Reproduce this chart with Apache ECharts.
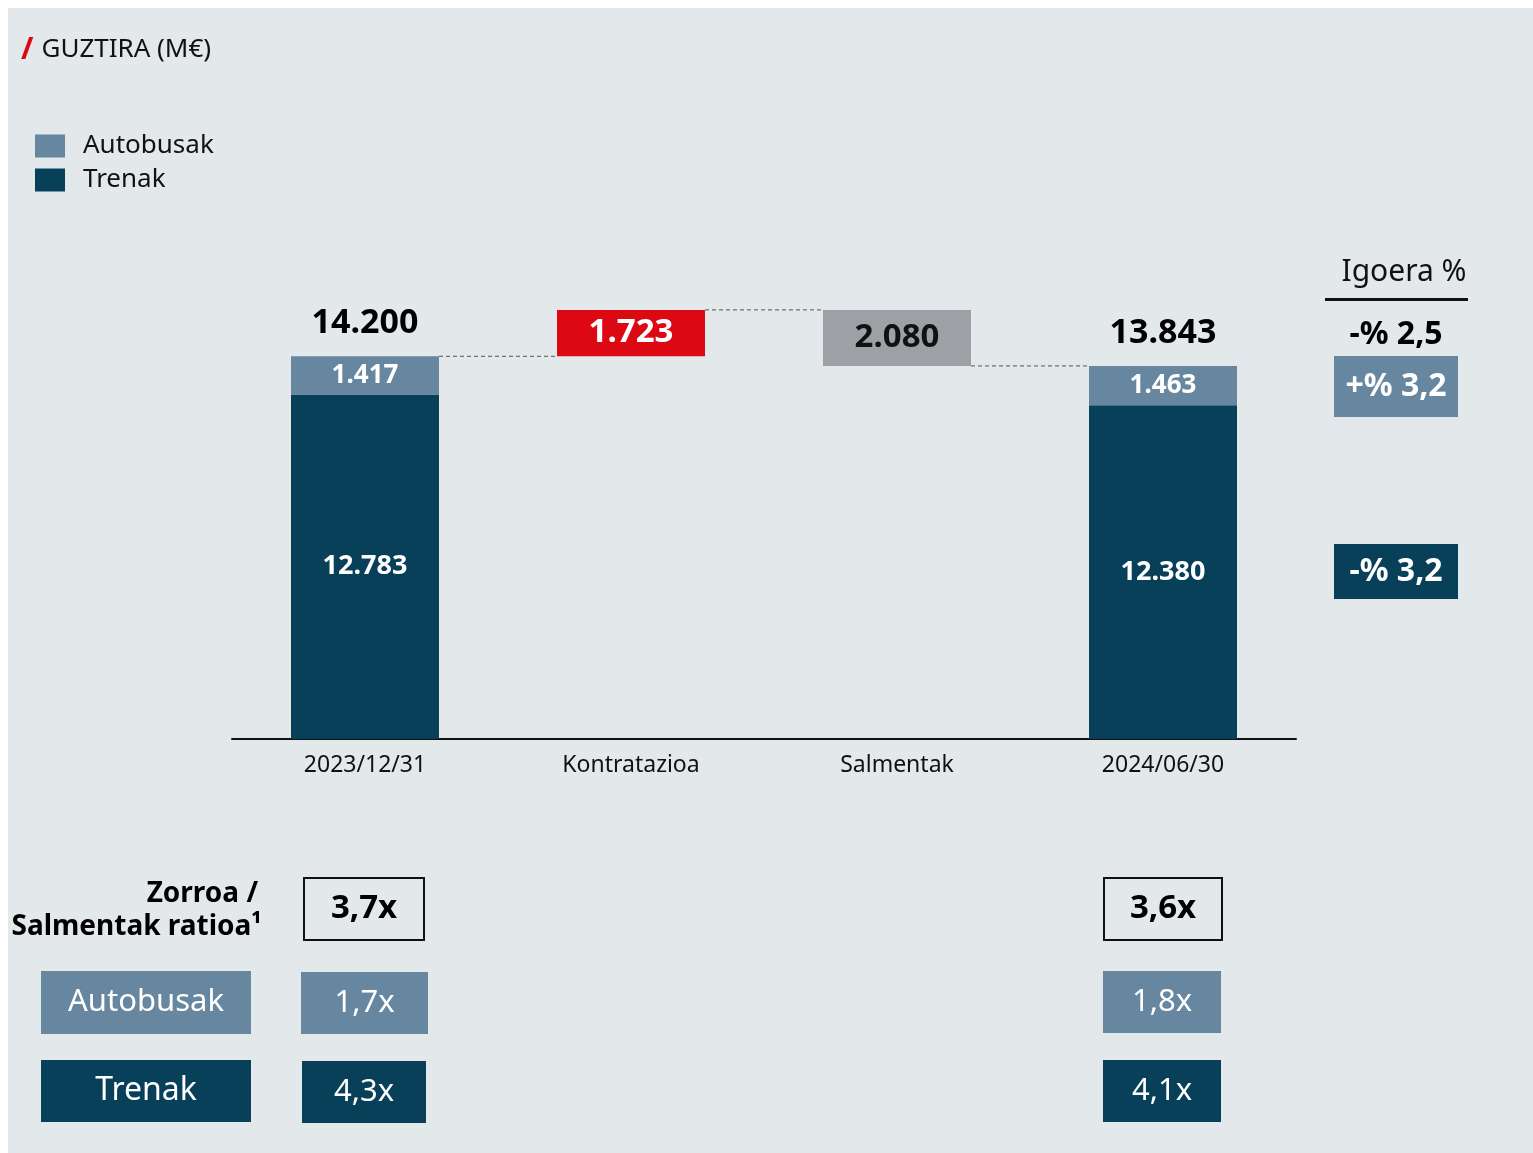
<!DOCTYPE html>
<html>
<head>
<meta charset="utf-8">
<script src="https://cdn.jsdelivr.net/npm/echarts@6/dist/echarts.min.js"></script>
<style>
  html, body { margin: 0; padding: 0; background: #fff; }
  #main { width: 1533px; height: 1153px; }
</style>
</head>
<body>
<div id="main"></div>
<script>
// datuak
var categories = ['2023/12/31', 'Kontratazioa', 'Salmentak', '2024/06/30'];
var trenak = [12783, '-', '-', 12380];
var autobusak = [1417, '-', '-', 1463];
var kontratazioa = 1723;
var salmentak = 2080;
var igoeraTotal = '-% 2,5';
var igoeraBus = '+% 3,2';
var igoeraTren = '-% 3,2';
var ratioTotal = ['3,7x', '3,6x'];
var ratioBus = ['1,7x', '1,8x'];
var ratioTren = ['4,3x', '4,1x'];

var C_BUS = '#66879f';
var C_TREN = '#08405a';
var C_RED = '#dc0814';
var C_GRAY = '#9da0a4';
var FONT = '"Noto Sans", sans-serif';

var total0 = trenak[0] + autobusak[0];
var total3 = trenak[3] + autobusak[3];
var peak = total0 + kontratazioa;
var totals = [total0, '-', '-', total3];
var base = ['-', total0, peak - salmentak, '-'];
var changes = ['-',
  { value: kontratazioa, itemStyle: { color: C_RED }, label: { color: '#fff' } },
  { value: salmentak, itemStyle: { color: C_GRAY }, label: { color: '#111' } },
  '-'];
var connectors = [[0, total0], [1, peak], [2, total3]];

function fmt(v) {
  return String(v).replace(/\B(?=(\d{3})+(?!\d))/g, '.');
}

//kutxak
function box(x, y, w, h, fill, text, color, size, weight, stroke) {
  return {
    type: 'rect',
    shape: { x: x, y: y, width: w, height: h },
    style: { fill: fill, stroke: stroke || null, lineWidth: stroke ? 2 : 0 },
    textContent: {
      style: { text: text, fill: color, font: weight + ' ' + size + 'px ' + FONT }
    },
    textConfig: { position: 'inside' }
  };
}

var myChart = echarts.init(document.getElementById('main'));
var option = {
  backgroundColor: '#fff',
  animation: false,
  title: {
    left: 12, top: 30,
    text: '{s|/}{t|GUZTIRA (M€)}',
    textStyle: {
      fontWeight: 'normal',
      rich: {
        s: { color: C_RED, fontSize: 30, fontFamily: FONT, fontWeight: 'bold', padding: [0, 8, 0, 4] },
        t: { color: '#111', fontSize: 26, fontFamily: FONT, fontWeight: 'normal' }
      }
    }
  },
  legend: {
    orient: 'vertical', left: 35, top: 133, padding: 0,
    itemWidth: 30, itemHeight: 23, itemGap: 8,
    icon: 'rect',
    data: ['Autobusak', 'Trenak'],
    textStyle: { fontSize: 26, lineHeight: 23, color: '#111', fontFamily: FONT, padding: [0, 0, 0, 13] }
  },
  grid: { left: 232, width: 1064, top: 200, bottom: 414 },
  xAxis: {
    type: 'category', data: categories,
    axisLine: { lineStyle: { color: '#111', width: 2 } },
    axisTick: { show: false },
    axisLabel: { fontSize: 23, color: '#111', margin: 15, fontFamily: FONT }
  },
  yAxis: { type: 'value', min: 0, max: 20000, show: false, splitLine: { show: false } },
  series: [
    { name: 'base', type: 'bar', stack: 'w', barWidth: 148, data: base,
      itemStyle: { color: 'transparent' }, silent: true },
    { name: 'Trenak', type: 'bar', stack: 'w', barWidth: 148, data: trenak,
      itemStyle: { color: C_TREN },
      label: { show: true, position: 'inside', color: '#fff', fontSize: 27, fontWeight: 'bold',
        fontFamily: FONT, formatter: function (p) { return fmt(p.value); } } },
    { name: 'Autobusak', type: 'bar', stack: 'w', barWidth: 148, data: autobusak,
      itemStyle: { color: C_BUS },
      label: { show: true, position: 'inside', color: '#fff', fontSize: 26, fontWeight: 'bold',
        fontFamily: FONT, formatter: function (p) { return fmt(p.value); } } },
    { name: 'change', type: 'bar', stack: 'w', barWidth: 148, data: changes,
      label: { show: true, position: 'inside', fontSize: 33, fontWeight: 'bold',
        fontFamily: FONT, formatter: function (p) { return fmt(p.value); } } },
    { name: 'total', type: 'scatter', data: totals, symbolSize: 1,
      itemStyle: { color: 'transparent', opacity: 1 },
      label: { show: true, position: 'top', distance: 15, color: '#000', fontSize: 34,
        fontWeight: 'bold', fontFamily: FONT, formatter: function (p) { return fmt(p.value); } } },
    { name: 'lines', type: 'custom', data: connectors, silent: true,
      renderItem: function (params, api) {
        var p = api.coord([api.value(0), api.value(1)]);
        var band = api.size([1, 0])[0];
        return {
          type: 'line',
          shape: { x1: p[0] + 74, y1: p[1], x2: p[0] + band - 74, y2: p[1] },
          style: { stroke: '#555', lineWidth: 1, lineDash: [4, 3] }
        };
      } }
  ],
  graphic: [
    { type: 'rect', z: -10, shape: { x: 8, y: 8, width: 1525, height: 1145 }, style: { fill: '#e3e8ea' } },
    // igoera
    { type: 'text', x: 1404, y: 272, style: { text: 'Igoera %', fill: '#111', font: '30px ' + FONT,
      align: 'center', verticalAlign: 'middle' } },
    { type: 'rect', shape: { x: 1325, y: 298, width: 143, height: 3 }, style: { fill: '#111' } },
    { type: 'text', x: 1396, y: 335, style: { text: igoeraTotal, fill: '#000', font: 'bold 32px ' + FONT,
      align: 'center', verticalAlign: 'middle' } },
    box(1334, 356, 124, 61, C_BUS, igoeraBus, '#fff', 32, 'bold'),
    box(1334, 544, 124, 55, C_TREN, igoeraTren, '#fff', 32, 'bold'),
    // ratioak
    { type: 'text', x: 258, y: 894, style: { text: 'Zorroa /', fill: '#000', font: 'bold 28px ' + FONT,
      align: 'right', verticalAlign: 'middle' } },
    { type: 'text', x: 262, y: 927, style: { text: 'Salmentak ratioa¹', fill: '#000', font: 'bold 28px ' + FONT,
      align: 'right', verticalAlign: 'middle' } },
    box(304, 878, 120, 62, 'transparent', ratioTotal[0], '#000', 33, 'bold', '#111'),
    box(1104, 878, 118, 62, 'transparent', ratioTotal[1], '#000', 33, 'bold', '#111'),
    box(41, 971, 210, 63, C_BUS, 'Autobusak', '#fff', 31, 'normal'),
    box(41, 1060, 210, 62, C_TREN, 'Trenak', '#fff', 32, 'normal'),
    box(301, 972, 127, 62, C_BUS, ratioBus[0], '#fff', 31, 'normal'),
    box(302, 1061, 124, 62, C_TREN, ratioTren[0], '#fff', 31, 'normal'),
    box(1103, 971, 118, 62, C_BUS, ratioBus[1], '#fff', 31, 'normal'),
    box(1103, 1060, 118, 62, C_TREN, ratioTren[1], '#fff', 31, 'normal')
  ]
};
myChart.setOption(option);
</script>
</body>
</html>
